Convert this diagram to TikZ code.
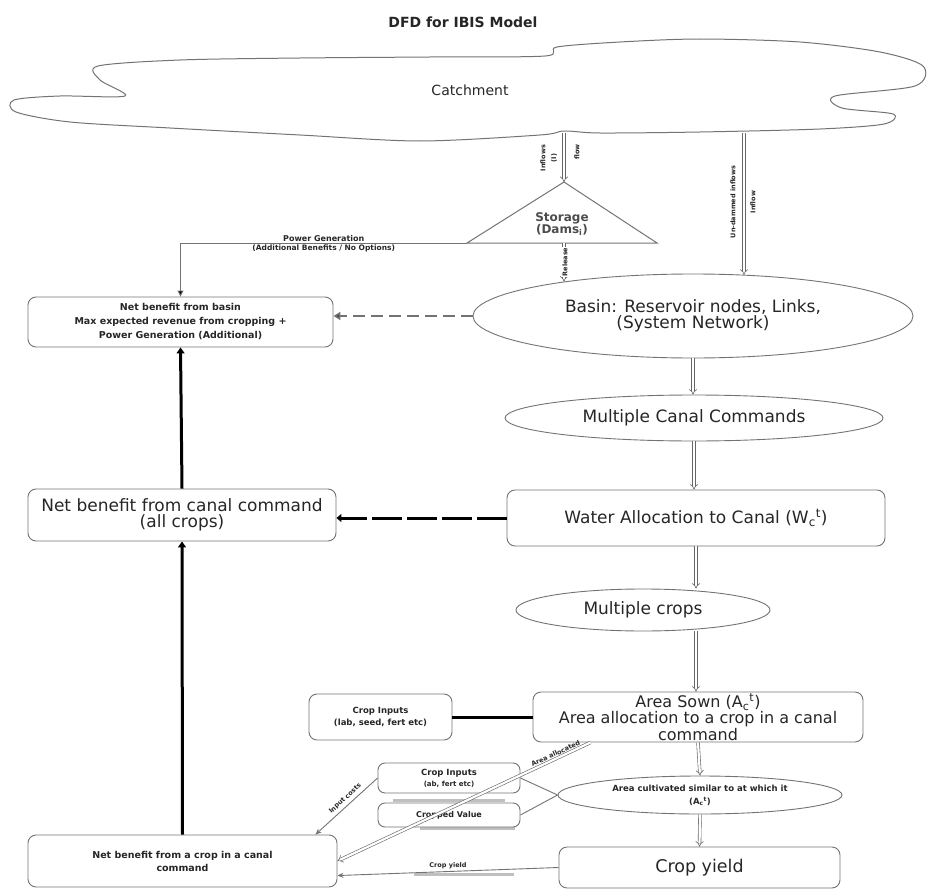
\documentclass[tikz,border=0pt]{standalone}
\usepackage{fontspec}
\setmainfont{DejaVu Sans}
\usetikzlibrary{arrows.meta,shapes.geometric,calc}
\begin{document}
\begin{tikzpicture}[x=1pt,y=-1pt,
  lc/.style={draw=black!55, line width=0.9pt},
  box/.style={lc, rounded corners=8pt, inner sep=0pt, align=center, text=black!85},
  oval/.style={lc, ellipse, inner sep=0pt, align=center, text=black!85},
  big/.style={font=\fontsize{17}{16}\selectfont},
  lab/.style={font=\fontsize{6.5}{7}\selectfont\bfseries, text=black!85, inner sep=1pt},
  dbl/.style={draw=black!60, line width=0.6pt, double=white, double distance=2.2pt, -{Implies}},
  thickk/.style={draw=black, line width=3pt, -{Triangle[length=6pt,width=8pt]}},
  dashg/.style={draw=black!55, line width=2pt, dash pattern=on 12pt off 6pt, -{Triangle[length=7pt,width=8pt,fill=black]}},
  dashk/.style={draw=black, line width=3pt, dash pattern=on 30pt off 5pt, -{Triangle[length=5pt,width=8pt]}},
  thinarr/.style={lc, -{Stealth[length=6pt,width=5pt]}},
  shade/.style={draw=black!25, line width=3pt}
]
\useasboundingbox (0,0) rectangle (927,891);

% title
\node[font=\fontsize{14}{16}\selectfont\bfseries, text=black!85] (title) at (463,22) {DFD for IBIS Model};

% catchment cloud
\draw[lc, line width=1pt] plot[smooth cycle, tension=0.5] coordinates {
 (98,66) (180,60) (300,58) (430,57) (545,56) (557,47) (620,42) (700,39) (800,42)
 (880,52) (923,66) (915,86) (835,96) (842,108) (893,114) (884,124) (820,129)
 (700,132) (600,133) (564,131) (540,135) (420,141) (300,135) (170,128) (70,122)
 (16,112) (14,100) (60,96) (125,96) (100,80)};
\node[font=\fontsize{14}{16}\selectfont, text=black!85] (catch) at (470,90) {Catchment};
\coordinate (c1) at (564,133);
\coordinate (c2) at (744,133);

% storage triangle
\coordinate (stTop) at (564,182);
\coordinate (stL) at (467,243);
\coordinate (stR) at (657,243);
\coordinate (stB) at (564,243);
\draw[lc, line width=1pt] (stTop) -- (stL) -- (stR) -- cycle;
\node[font=\fontsize{12}{12}\selectfont\bfseries, text=black!70, align=center] (stor) at (562,224) {Storage\\(Dams\textsubscript{i})};

% boxes and ellipses
\node[box, font=\fontsize{9.5}{14}\selectfont\bfseries, minimum width=305pt, minimum height=50pt] (basinBox) at (180.5,322)
  {Net benefit from basin\\Max expected revenue from cropping +\\Power Generation (Additional)};
\node[oval, big, minimum width=440pt, minimum height=84pt] (basinE) at (693,316)
  {Basin: Reservoir nodes, Links,\\(System Network)};
\node[oval, big, minimum width=378pt, minimum height=46pt] (mcc) at (694,418) {Multiple Canal Commands};
\node[box, big, minimum width=378pt, minimum height=56pt] (wa) at (696,518)
  {Water Allocation to Canal (W\textsubscript{c}\textsuperscript{t})};
\node[box, big, minimum width=308pt, minimum height=52pt] (canal) at (182,515)
  {Net benefit from canal command\\(all crops)};
\node[oval, big, minimum width=254pt, minimum height=42pt] (mc) at (643,610) {Multiple crops};
\node[box, font=\fontsize{16}{16.5}\selectfont, minimum width=330pt, minimum height=50pt] (as) at (698,717)
  {Area Sown (A\textsubscript{c}\textsuperscript{t})\\Area allocation to a crop in a canal\\command};
\node[box, font=\fontsize{8.5}{12}\selectfont\bfseries, minimum width=143pt, minimum height=46pt] (ci1) at (380.5,717)
  {Crop Inputs\\(lab, seed, fert etc)};
\node[oval, font=\fontsize{8.5}{13}\selectfont\bfseries, minimum width=284pt, minimum height=38pt] (ac) at (700,795)
  {Area cultivated similar to at which it\\(A\textsubscript{c}\textsuperscript{t})};
\draw[shade] (393,800) -- (505,800);
\draw[shade] (420,828) -- (515,828);
\node[box, rounded corners=7pt, font=\fontsize{8.5}{11}\selectfont\bfseries, minimum width=142pt, minimum height=30pt] (ci2) at (449,778)
  {Crop Inputs\\{\fontsize{7}{9}\selectfont (ab, fert etc)}};
\node[box, rounded corners=7pt, fill=white, font=\fontsize{8}{10}\selectfont\bfseries, minimum width=142pt, minimum height=24pt] (cv) at (449,815)
  {Cropped Value};
\node[box, font=\fontsize{9.5}{13}\selectfont\bfseries, minimum width=309pt, minimum height=52pt] (cb) at (182.5,861)
  {Net benefit from a crop in a canal\\command};
\node[box, font=\fontsize{17.5}{18}\selectfont, minimum width=281pt, minimum height=41pt] (cy) at (699.5,867.5) {Crop yield};

% connectors: top
\draw[dbl] (c1) -- (stTop);
\node[lab, rotate=90] (l1) at (543,158) {Inflows};
\node[lab, rotate=90] (l2) at (554,158) {(I)};
\node[lab, rotate=90] (l3) at (577,152) {flow};
\draw[dbl] (c2) -- (c2 |- basinE.39);
\node[lab, rotate=90] (l4) at (733,202) {Un-dammed inflows};
\node[lab, rotate=90] (l5) at (753,202) {Inflow};
\draw[dbl] (stB) -- (stB |- basinE.165);
\node[lab, rotate=90, fill=white, inner sep=0.5pt] (l6) at (565,262) {Release};
\draw[lc, -{Triangle[length=6pt,width=6pt,fill=black]}] (stL) -| (basinBox.north)
  node[pos=0.25, above=0pt, font=\fontsize{8}{9}\selectfont\bfseries, text=black!85, inner sep=1pt] {Power Generation}
  node[pos=0.25, below=0pt, font=\fontsize{7.5}{9}\selectfont\bfseries, text=black!85, inner sep=1pt] {(Additional Benefits / No Options)};
\draw[dashg] (basinE.west) -- (basinE.west -| basinBox.east);
\draw[dbl] (basinE.south) -- (basinE.south |- mcc.north);
\draw[dbl] (mcc.south) -- (mcc.south |- wa.north);
\draw[dashk] (wa.west) -- (wa.west -| canal.east);
\draw[dbl] (wa.south) -- (wa.south |- mc.north);
\draw[dbl] (wa.south |- mc.south) -- (wa.south |- as.north);

% left column thick arrows
\draw[thickk] (canal.north) -- (basinBox.south);
\draw[thickk] (cb.north) -- (canal.south);

% bottom
\draw[draw=black, line width=3pt] (ci1.east) -- (ci1.east -| as.west);
\draw[dbl] (as.south) -- (ac.north);
\draw[dbl] (ac.south) -- (cy.north);
\draw[dbl] ($(as.south west)+(58,0)$) -- (cb.east)
  node[pos=0.13, above=1pt, sloped, lab] {Area allocated};
\draw[thinarr] (ci2.west) -- ($(cb.north east)+(-22,0)$)
  node[pos=0.45, above=2pt, sloped, lab] {Input costs};
\draw[lc] (ci2.east) -- (ac.west);
\draw[lc] (cv.east) -- (ac.west);
\draw[shade] (414,874) -- (514,874);
\draw[thinarr] (cy.west) -- ($(cb.east)!0.55!(cb.south east)$)
  node[midway, above=1pt, lab] {Crop yield};
\end{tikzpicture}
\end{document}
